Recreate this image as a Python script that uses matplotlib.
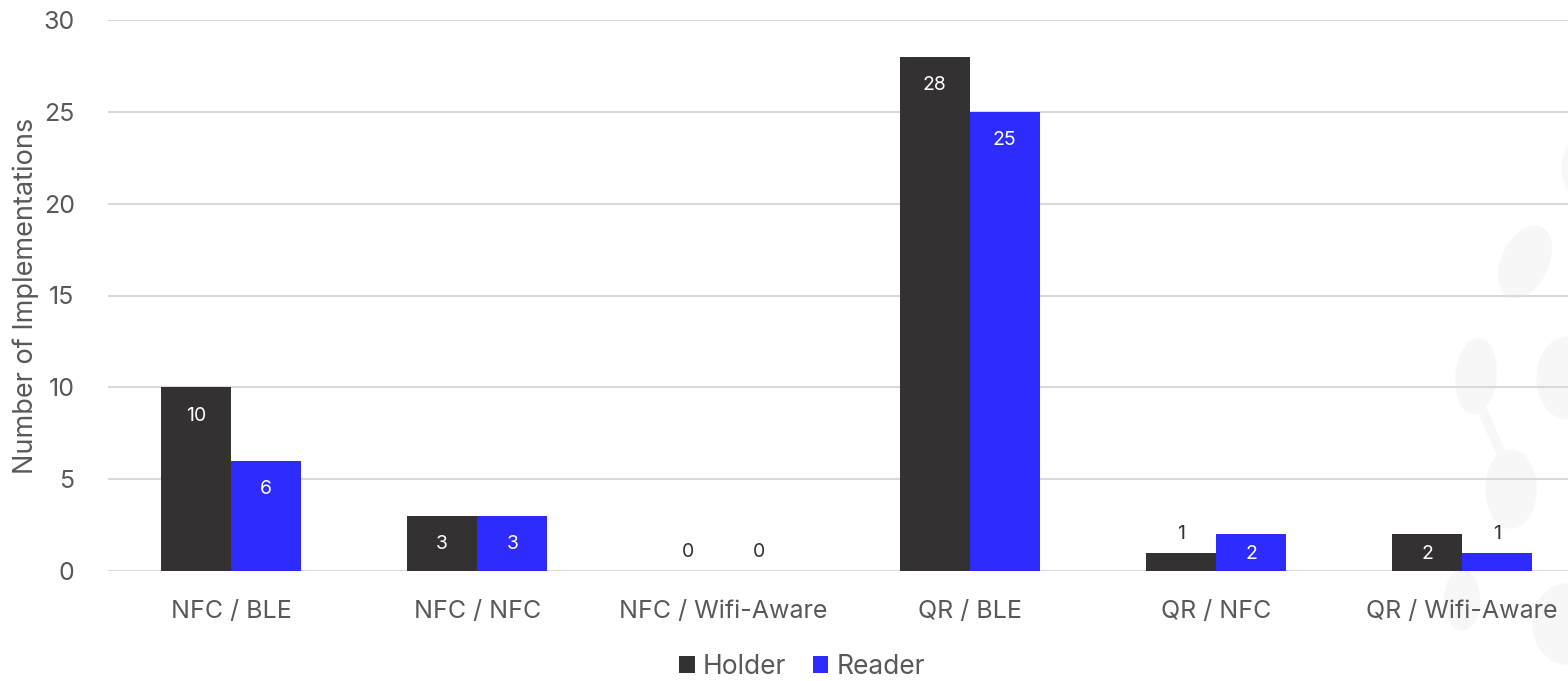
import numpy as np
import matplotlib.pyplot as plt
from matplotlib.patches import Ellipse
from matplotlib.lines import Line2D
from matplotlib.transforms import IdentityTransform

# Data
categories = ['NFC / BLE', 'NFC / NFC', 'NFC / Wifi-Aware', 'QR / BLE', 'QR / NFC', 'QR / Wifi-Aware']
holder = [10, 3, 0, 28, 1, 2]
reader = [6, 3, 0, 25, 2, 1]
series_names = ['Holder', 'Reader']

holder_color = '#333132'
reader_color = '#2e2bff'
text_gray = '#595959'
grid_color = '#d9d9d9'

plt.rcParams['font.family'] = ['Inter', 'DejaVu Sans']

W, H = 1568, 681
fig = plt.figure(figsize=(W / 100, H / 100), dpi=100)

# faint decorative shapes on the right (background watermark), pixel coords
shape_color = '#f7f7f7'
pix = IdentityTransform()
for (cx, cy, w, h, ang) in [(1525, 262, 46, 76, -25), (1476, 376, 40, 75, -5),
                            (1568, 378, 62, 82, 0), (1511, 489, 50, 78, 0),
                            (1582, 168, 40, 60, 0), (1462, 600, 35, 60, 0),
                            (1566, 624, 66, 80, 0)]:
    fig.patches.append(Ellipse((cx, H - cy), w, h, angle=ang, transform=pix,
                               color=shape_color, zorder=-1))
fig.lines.append(Line2D([1482, 1505], [H - 410, H - 462], transform=pix,
                        color=shape_color, lw=7, zorder=-1))

ax = fig.add_axes([108 / W, 1 - 571 / H, 1 - 108 / W, (571 - 20) / H])
ax.set_facecolor('none')

x = np.arange(len(categories))
w = 0.285
b1 = ax.bar(x - w / 2, holder, w, color=holder_color, zorder=3, label=series_names[0])
b2 = ax.bar(x + w / 2, reader, w, color=reader_color, zorder=3, label=series_names[1])

ax.set_xlim(-0.5, 5.43)
ax.set_ylim(0, 30)
ax.set_yticks(range(0, 31, 5))
ax.yaxis.grid(True, color=grid_color, linewidth=1.5, zorder=0)
ax.set_axisbelow(True)
for s in ax.spines.values():
    s.set_visible(False)
ax.tick_params(length=0, labelsize=18, colors=text_gray, pad=24)
ax.tick_params(axis='x', pad=21)
ax.set_xticks(x)
ax.set_xticklabels(categories)
ax.set_ylabel('Number of Implementations', fontsize=19.5, color=text_gray, labelpad=3)

# data labels
for bars, vals in [(b1, holder), (b2, reader)]:
    for bar, v in zip(bars, vals):
        cx = bar.get_x() + bar.get_width() / 2
        if v >= 2:
            ax.text(cx, max(v - 1.55, 0.95), str(v), ha='center', va='center',
                    color='white', fontsize=14, zorder=4)
        else:
            ax.annotate(str(v), (cx, v), xytext=(0, 7), textcoords='offset points',
                        ha='center', va='bottom', color=holder_color, fontsize=14, zorder=4)

fig.legend(handles=[b1, b2], loc='center', bbox_to_anchor=(802 / W, 1 - 667 / H),
           ncol=2, frameon=False, fontsize=19, handlelength=0.6, handleheight=0.6,
           handletextpad=0.3, columnspacing=1.0, labelcolor=text_gray)

fig.savefig('out.png', dpi=100)
